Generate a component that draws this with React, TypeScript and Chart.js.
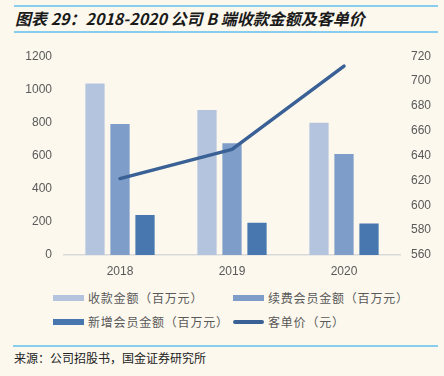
import React, { useEffect, useRef } from "react";
import { Chart, registerables } from "chart.js";

Chart.register(...registerables);

const categories = ["2018", "2019", "2020"];
const receiptsAmount = [1035, 875, 798];
const renewalAmount = [790, 675, 610];
const newMemberAmount = [242, 195, 190];
const unitPrice = [621.5, 645, 712];

const seriesNames = [
  "收款金额（百万元）",
  "续费会员金额（百万元）",
  "新增会员金额（百万元）",
  "客单价（元）",
];
const colors = ["#B4C4DF", "#7F9DC9", "#4877AF", "#3A6195"];

const BG = "#FCF8EE";
const RULE = "#86CDEE";
const TICK_FONT = "'Liberation Sans', Arial, sans-serif";
const CJK = "'Noto Sans CJK SC', 'Liberation Sans', sans-serif";

export default function App() {
  const canvasRef = useRef<HTMLCanvasElement | null>(null);

  useEffect(() => {
    document.body.style.margin = "0";
    const ctx = canvasRef.current;
    if (!ctx) return;
    const chart = new Chart(ctx, {
      type: "bar",
      data: {
        labels: categories,
        datasets: [
          {
            type: "line",
            label: seriesNames[3],
            data: unitPrice,
            yAxisID: "y1",
            borderColor: colors[3],
            backgroundColor: colors[3],
            borderWidth: 3.5,
            pointRadius: 0,
            borderCapStyle: "round",
            borderJoinStyle: "round",
            order: 0,
          } as any,
          {
            label: seriesNames[0],
            data: receiptsAmount,
            backgroundColor: colors[0],
            yAxisID: "y",
            order: 1,
          },
          {
            label: seriesNames[1],
            data: renewalAmount,
            backgroundColor: colors[1],
            yAxisID: "y",
            order: 1,
          },
          {
            label: seriesNames[2],
            data: newMemberAmount,
            backgroundColor: colors[2],
            yAxisID: "y",
            order: 1,
          },
        ],
      },
      options: {
        animation: false,
        responsive: false,
        maintainAspectRatio: false,
        datasets: {
          bar: { categoryPercentage: 0.67, barPercentage: 0.77 },
        },
        layout: { padding: { top: 14, left: 0, right: 0, bottom: 0 } },
        plugins: {
          legend: { display: false },
          title: { display: false },
          tooltip: { enabled: false },
        },
        scales: {
          x: {
            grid: { display: false, drawTicks: false },
            border: { display: true, color: "#D9D9D9", width: 1.5 },
            ticks: {
              color: "#595959",
              font: { family: TICK_FONT, size: 12 },
              padding: 9,
            },
            afterFit: (s: any) => {
              s.height = 32;
            },
          },
          y: {
            position: "left",
            min: 0,
            max: 1200,
            grid: { display: false, drawTicks: false },
            border: { display: false },
            ticks: {
              stepSize: 200,
              color: "#595959",
              font: { family: TICK_FONT, size: 12 },
              padding: 12,
              callback: (v: any) => String(v),
            },
            afterFit: (s: any) => {
              s.width = 64;
            },
          },
          y1: {
            position: "right",
            min: 560,
            max: 720,
            grid: { display: false, drawTicks: false },
            border: { display: false },
            ticks: {
              stepSize: 20,
              color: "#595959",
              font: { family: TICK_FONT, size: 12 },
              padding: 11,
              callback: (v: any) => String(v),
            },
            afterFit: (s: any) => {
              s.width = 44;
            },
          },
        },
      },
    });
    return () => chart.destroy();
  }, []);

  const legendItems = [
    { name: seriesNames[0], color: colors[0], x: 53, y: 298, line: false },
    { name: seriesNames[1], color: colors[1], x: 233, y: 298, line: false },
    { name: seriesNames[2], color: colors[2], x: 53, y: 322, line: false },
    { name: seriesNames[3], color: colors[3], x: 233, y: 322, line: true },
  ];

  return (
    <div
      style={{
        position: "fixed",
        left: 0,
        top: 0,
        width: 444,
        height: 376,
        background: BG,
        overflow: "hidden",
      }}
    >
      <div style={{ position: "absolute", left: 14, top: 5, width: 424, height: 2, background: RULE }} />
      <div
        style={{
          position: "absolute",
          left: 15,
          top: 8,
          fontFamily: CJK,
          fontWeight: 700,
          fontStyle: "italic",
          fontSize: 16,
          lineHeight: "20px",
          color: "#1a1a1a",
          whiteSpace: "nowrap",
        }}
      >
        图表 29：2018-2020 公司 B 端收款金额及客单价
      </div>
      <div style={{ position: "absolute", left: 14, top: 31, width: 424, height: 2, background: RULE }} />

      <canvas
        ref={canvasRef}
        width={444}
        height={250}
        style={{ position: "absolute", left: 0, top: 37, width: 444, height: 250 }}
      />

      {legendItems.map((it) => (
        <div key={it.name}>
          <div
            style={{
              position: "absolute",
              left: it.x,
              top: it.line ? it.y - 2 : it.y - 3,
              width: 31,
              height: it.line ? 4 : 6,
              borderRadius: it.line ? 2 : 0,
              background: it.color,
            }}
          />
          <div
            style={{
              position: "absolute",
              left: it.x + 35,
              top: it.y - 9,
              fontFamily: CJK,
              fontSize: 12,
              lineHeight: "18px",
              letterSpacing: "0.8px",
              color: "#595959",
              whiteSpace: "nowrap",
            }}
          >
            {it.name}
          </div>
        </div>
      ))}

      <div style={{ position: "absolute", left: 13, top: 345, width: 425, height: 1.5, background: RULE }} />
      <div
        style={{
          position: "absolute",
          left: 14,
          top: 350,
          fontFamily: CJK,
          fontSize: 12,
          lineHeight: "16px",
          color: "#222",
          whiteSpace: "nowrap",
        }}
      >
        来源：公司招股书，国金证券研究所
      </div>
    </div>
  );
}
